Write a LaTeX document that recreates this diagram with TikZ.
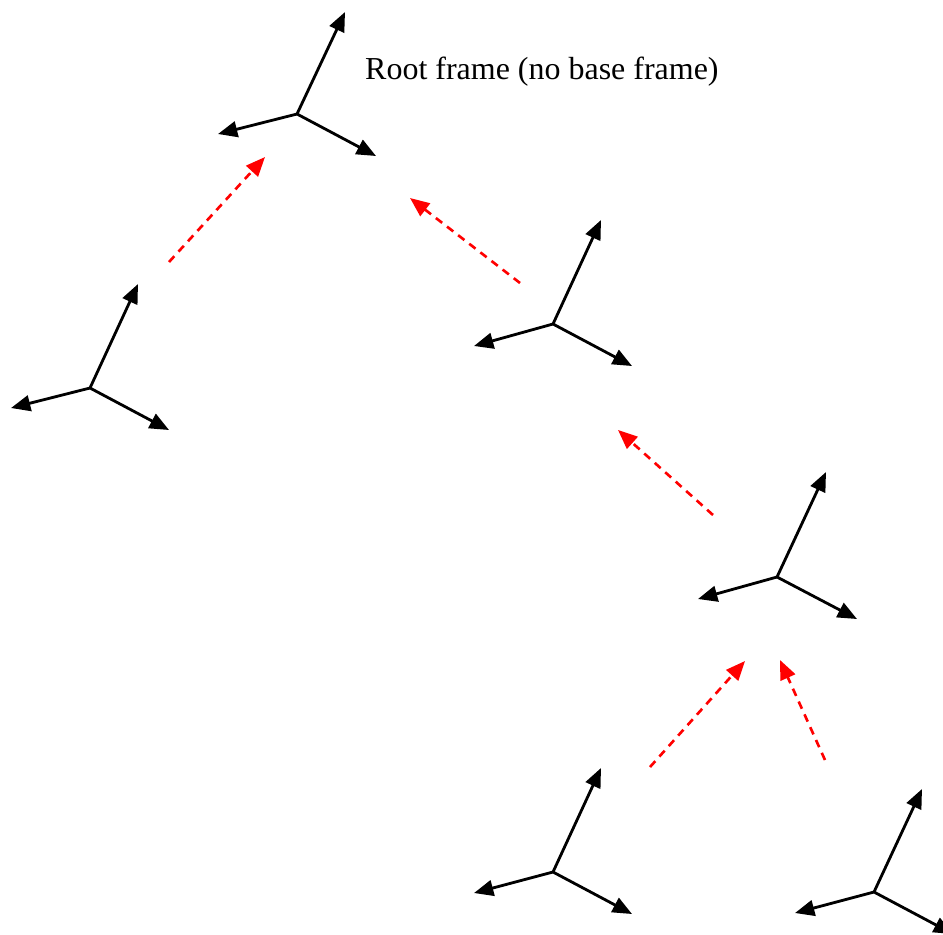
\documentclass[tikz,border=0pt]{standalone}
\usepackage{fontspec}
\setmainfont{Liberation Serif}
\usetikzlibrary{arrows.meta}

\tikzset{
  axis/.style={line width=1.6pt, -{Triangle[length=11pt,width=9pt]}},
  link/.style={red, line width=1.5pt, dash pattern=on 4.5pt off 3.5pt, -{Triangle[length=11pt,width=9pt]}},
}

\begin{document}
\begin{tikzpicture}[x=0.02cm, y=-0.02cm, font=\fontsize{18.2}{21}\selectfont]
  \useasboundingbox (0,0) rectangle (943,934);
  % root
  \coordinate (root) at (297,114);
  \draw[axis] (root) -- ++(48,-102);
  \draw[axis] (root) -- ++(-79,20);
  \draw[axis] (root) -- ++(79,42);
  \node[anchor=west] (title) at (359,72) {Root frame (no base frame)};
  % frame a
  \coordinate (fa) at (90,388);
  \draw[axis] (fa) -- ++(48,-104);
  \draw[axis] (fa) -- ++(-79,20);
  \draw[axis] (fa) -- ++(79,42);
  % frame b
  \coordinate (fb) at (553,324);
  \draw[axis] (fb) -- ++(48,-104);
  \draw[axis] (fb) -- ++(-79,22);
  \draw[axis] (fb) -- ++(79,42);
  % frame c
  \coordinate (fc) at (777,577);
  \draw[axis] (fc) -- ++(49,-105);
  \draw[axis] (fc) -- ++(-79,22);
  \draw[axis] (fc) -- ++(80,42);
  % frame d
  \coordinate (fd) at (553,872);
  \draw[axis] (fd) -- ++(48,-104);
  \draw[axis] (fd) -- ++(-79,21);
  \draw[axis] (fd) -- ++(79,42);
  % frame e
  \coordinate (fe) at (874,892);
  \draw[axis] (fe) -- ++(48,-103);
  \draw[axis] (fe) -- ++(-79,21);
  \draw[axis] (fe) -- ++(79,42);
  % links to base frames
  \coordinate (fa-out) at (169,262);
  \coordinate (root-ina) at (265,157);
  \coordinate (fb-out) at (520,283);
  \coordinate (root-inb) at (410,198);
  \coordinate (fc-out) at (713,515);
  \coordinate (fb-in) at (618,430);
  \coordinate (fd-out) at (650,767);
  \coordinate (fc-ind) at (745,661);
  \coordinate (fe-out) at (825,760);
  \coordinate (fc-ine) at (780,660);
  \draw[link] (fa-out) -- (root-ina);
  \draw[link] (fb-out) -- (root-inb);
  \draw[link] (fc-out) -- (fb-in);
  \draw[link] (fd-out) -- (fc-ind);
  \draw[link] (fe-out) -- (fc-ine);
\end{tikzpicture}
\end{document}
